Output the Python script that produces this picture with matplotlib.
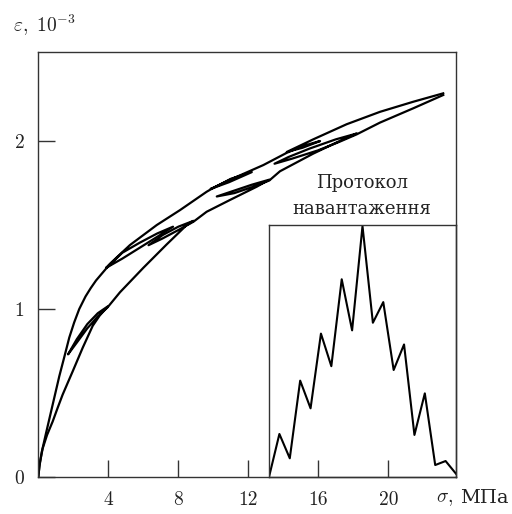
import matplotlib
matplotlib.use("Agg")
import matplotlib.pyplot as plt

plt.rcParams['mathtext.fontset'] = 'cm'

# loading branch (sigma, MPa ; eps, 1e-3) with unload/reload loops
load_sigma = [0, 0.08, 0.25, 0.5, 0.82, 1.1, 1.39, 1.7, 1.97, 2.54, 3.11, 3.5, 3.96,
              3.4, 2.8, 2.2, 1.7, 2.2, 2.8, 3.4, 3.96,
              4.67, 6.0, 7.34, 8.48, 8.87,
              8.0, 7.1, 6.3, 7.1, 8.0, 8.87,
              9.62, 10.95, 12.48, 13.2,
              12.2, 11.2, 10.2, 11.2, 12.2, 13.2,
              13.81, 15.71, 17.62, 18.2,
              17.0, 15.5, 14.3, 13.5, 14.5, 16.0, 17.2, 18.2,
              19.53, 21.43, 23.14]
load_eps = [0, 0.08, 0.17, 0.25, 0.33, 0.41, 0.49, 0.565, 0.63, 0.77, 0.90, 0.96, 1.015,
            0.975, 0.91, 0.82, 0.73, 0.80, 0.885, 0.955, 1.01,
            1.10, 1.245, 1.385, 1.50, 1.525,
            1.49, 1.44, 1.38, 1.42, 1.47, 1.52,
            1.579, 1.649, 1.728, 1.77,
            1.74, 1.705, 1.67, 1.69, 1.725, 1.765,
            1.82, 1.925, 2.02, 2.045,
            2.01, 1.955, 1.905, 1.865, 1.895, 1.945, 1.995, 2.04,
            2.11, 2.195, 2.274]

# unloading branch back to zero with reload loops
unload_sigma = [23.14, 21.43, 19.53, 17.62, 15.71, 14.2,
                15.1, 16.1, 15.1, 14.2,
                12.86, 11.14, 9.85,
                10.9, 12.2, 11.0, 9.85,
                9.62, 8.1, 6.77, 5.24, 4.1, 3.87,
                4.8, 5.8, 6.8, 7.7, 6.8, 5.8, 4.8, 3.87,
                3.3, 3.0, 2.7, 2.34, 2.05, 1.77, 1.5, 1.2,
                0.82, 0.44, 0.2, 0.06, 0]
unload_eps = [2.284, 2.234, 2.174, 2.10, 2.01, 1.935,
              1.96, 2.0, 1.97, 1.93,
              1.857, 1.778, 1.715,
              1.755, 1.815, 1.775, 1.712,
              1.698, 1.589, 1.50, 1.381, 1.27, 1.245,
              1.30, 1.365, 1.43, 1.49, 1.45, 1.395, 1.335, 1.24,
              1.17, 1.125, 1.075, 1.0, 0.92, 0.83, 0.72, 0.60,
              0.43, 0.26, 0.15, 0.06, 0]

# loading protocol (inset)
protocol_step = list(range(19))
protocol_sigma = [0, 3.96, 1.72, 8.87, 6.32, 13.2, 10.2, 18.2, 13.5, 23.1,
                  14.2, 16.1, 9.85, 12.2, 3.87, 7.7, 1.1, 1.47, 0.3]

x_ticks = [4, 8, 12, 16, 20]
y_ticks = [0, 1, 2]

fig = plt.figure(figsize=(5.12, 5.14), dpi=100)
ax = fig.add_axes([0.0748, 0.072, 0.8158, 0.8268])

ax.plot(load_sigma, load_eps, color='black', lw=1.6, solid_joinstyle='round')
ax.plot(unload_sigma, unload_eps, color='black', lw=1.6, solid_joinstyle='round')

ax.set_xlim(0, 23.87)
ax.set_ylim(0, 2.53)
ax.set_xticks(x_ticks)
ax.set_yticks(y_ticks)
ax.set_xticklabels([str(t) for t in x_ticks], fontfamily='cmr10', fontsize=14, color='#222222')
ax.set_yticklabels([str(t) for t in y_ticks], fontfamily='cmr10', fontsize=14, color='#222222')
ax.tick_params(axis='both', direction='in', length=12, width=1.0, color='#333333')
ax.tick_params(axis='x', pad=10)
ax.tick_params(axis='y', pad=10)
for s in ax.spines.values():
    s.set_linewidth(1.0)
    s.set_color('#333333')

# axis titles
fig.text(0.025, 0.951, r'$\varepsilon,\ 10^{-3}$', fontsize=14, color='#222222',
         ha='left', va='center')
fig.text(0.851, 0.031, r'$\sigma,$', fontsize=14, color='#222222', ha='left', va='center')
fig.text(0.899, 0.031, 'МПа', fontfamily='DejaVu Serif', fontsize=14,
         color='#222222', ha='left', va='center')

# inset with loading protocol
ins = fig.add_axes([0.5254, 0.072, 0.3652, 0.4903], facecolor='none')
ins.plot(protocol_step, protocol_sigma, color='black', lw=1.5)
ins.set_xlim(0, 18)
ins.set_ylim(0, 23.2)
ins.set_xticks([])
ins.set_yticks([])
for s in ins.spines.values():
    s.set_linewidth(1.0)
    s.set_color('#333333')

fig.text(0.707, 0.619, 'Протокол\nнавантаження', fontfamily='DejaVu Serif',
         fontsize=13, color='#222222', ha='center', va='center', linespacing=1.55)

fig.savefig('out.png', dpi=100)
